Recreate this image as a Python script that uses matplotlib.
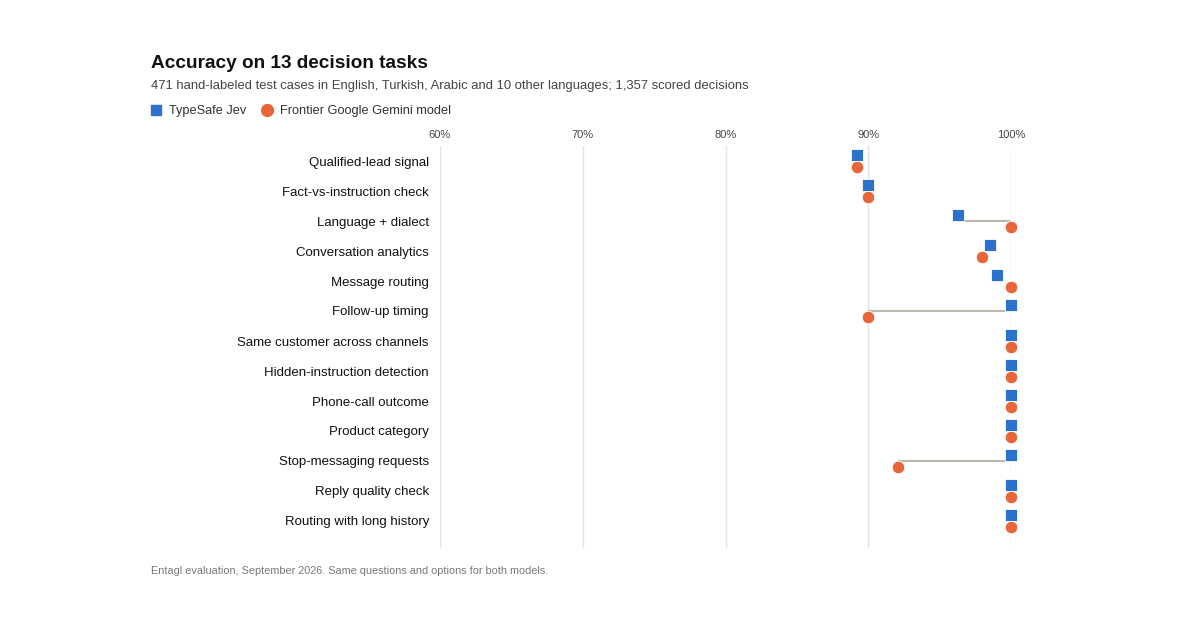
import matplotlib
matplotlib.use("Agg")
import matplotlib.pyplot as plt
from matplotlib.lines import Line2D

tasks = [
    "Qualified-lead signal",
    "Fact-vs-instruction check",
    "Language + dialect",
    "Conversation analytics",
    "Message routing",
    "Follow-up timing",
    "Same customer across channels",
    "Hidden-instruction detection",
    "Phone-call outcome",
    "Product category",
    "Stop-messaging requests",
    "Reply quality check",
    "Routing with long history",
]
typesafe = [89.2, 90.0, 96.3, 98.5, 99.0, 100, 100, 100, 100, 100, 100, 100, 100]
gemini = [89.2, 90.0, 100, 98.0, 100, 90.0, 100, 100, 100, 100, 92.1, 100, 100]
xticks = [60, 70, 80, 90, 100]
xticklabels = ["60%", "70%", "80%", "90%", "100%"]

BLUE = "#2B72CF"
ORANGE = "#E8653A"
FONT = ["Liberation Sans", "DejaVu Sans"]
plt.rcParams["font.family"] = FONT

W, H = 1200, 627
fig = plt.figure(figsize=(W / 100, H / 100), dpi=100)
fig.patch.set_facecolor("white")

ax_l, ax_r, ax_t, ax_b = 440, 1011, 146, 548
ax = fig.add_axes([ax_l / W, 1 - ax_b / H, (ax_r - ax_l) / W, (ax_b - ax_t) / H])
ax.set_xlim(60, 100)
ax.set_ylim(12.9, -0.5)

for s in ax.spines.values():
    s.set_visible(False)

ax.set_xticks(xticks)
ax.set_xticklabels(xticklabels)
ax.xaxis.tick_top()
ax.tick_params(axis="x", length=0, pad=4, labelsize=8, labelcolor="#444444")
ax.grid(axis="x", color="#e3e3e3", linewidth=1)
ax.set_axisbelow(True)

ys = list(range(len(tasks)))
ax.set_yticks(ys)
ax.set_yticklabels(tasks)
ax.tick_params(axis="y", length=0, pad=8, labelsize=9.5, labelcolor="#111111")

off = 0.2
for y, b, g in zip(ys, typesafe, gemini):
    if abs(b - g) >= 2:
        ax.plot([b, g], [y, y], color="#bdb8ae", lw=1.5, zorder=2,
                solid_capstyle="butt", clip_on=False)

ax.plot(typesafe, [y - off for y in ys], linestyle="none", marker="s", markersize=8,
        color=BLUE, markeredgecolor="white", markeredgewidth=0.6, zorder=4, clip_on=False)
ax.plot(gemini, [y + off for y in ys], linestyle="none", marker="o", markersize=9,
        color=ORANGE, markeredgecolor="white", markeredgewidth=0.6, zorder=3, clip_on=False)

fig.text(151 / W, 1 - 64 / H, "Accuracy on 13 decision tasks", fontsize=13.7,
         fontweight="bold", color="#111111", va="center", ha="left")
fig.text(151 / W, 1 - 86 / H,
         "471 hand-labeled test cases in English, Turkish, Arabic and 10 other languages; 1,357 scored decisions",
         fontsize=9.33, color="#444444", va="center", ha="left")
fig.text(151 / W, 1 - 571 / H,
         "Entagl evaluation, September 2026. Same questions and options for both models.",
         fontsize=7.8, color="#777777", va="center", ha="left")

handles = [
    Line2D([], [], linestyle="none", marker="s", markersize=7.5, color=BLUE),
    Line2D([], [], linestyle="none", marker="o", markersize=8.5, color=ORANGE),
]
fig.legend(handles, ["TypeSafe Jev", "Frontier Google Gemini model"],
           loc="center left", bbox_to_anchor=(152 / W, 1 - 111 / H), ncol=2,
           frameon=False, borderaxespad=0, borderpad=0, handlelength=0.6,
           handletextpad=0.72, columnspacing=1.3, fontsize=9.2,
           labelcolor="#333333")

fig.savefig("out.png", dpi=100, facecolor="white")
